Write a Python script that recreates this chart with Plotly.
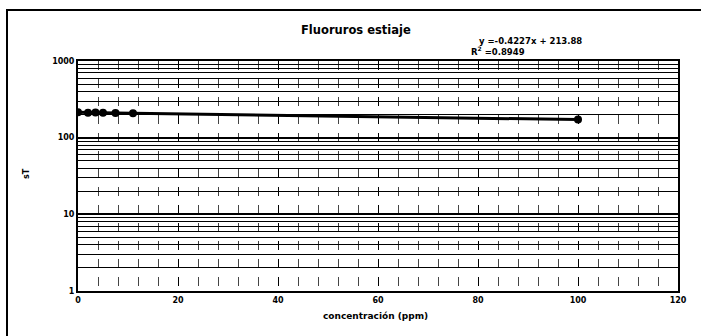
import plotly.graph_objects as go

# Data
conc_ppm = [0, 2, 3.5, 5, 7.5, 11, 100]
st_values = [214, 212, 213, 211, 210, 208, 172]
x_ticks = [0, 20, 40, 60, 80, 100, 120]
y_ticks = [1, 10, 100, 1000]
y_tick_text = ["1", "10", "100", "1000"]

title_text = "Fluoruros estiaje"
equation_text = "y =-0.4227x + 213.88"
r2_text = "R<sup>2</sup> =0.8949"
x_title = "concentración (ppm)"
y_title = "sT"

fig = go.Figure()
fig.add_trace(go.Scatter(
    x=conc_ppm, y=st_values, mode="lines+markers",
    line=dict(color="black", width=3),
    marker=dict(color="black", size=8, symbol="circle"),
    showlegend=False,
))

W, H = 701, 336
L, R, T, B = 78, 23, 61, 45

def px_x(px):
    return (px - L) / (W - L - R)

def px_y(py):
    return (H - B - py) / (H - T - B)

font_b = "DejaVu Sans"

fig.update_layout(
    width=W, height=H,
    margin=dict(l=L, r=R, t=T, b=B),
    paper_bgcolor="white", plot_bgcolor="white",
    font=dict(family=font_b, color="black", size=8),
    xaxis=dict(
        range=[0, 120], tickvals=x_ticks, ticks="", showline=True,
        linecolor="black", linewidth=2, mirror=True,
        showgrid=True, gridcolor="black", gridwidth=1, griddash="dash",
        minor=dict(dtick=4, showgrid=True, gridcolor="#444", gridwidth=1, griddash="dash"),
        tickfont=dict(family=font_b, size=8, color="black", weight="bold"),
        zeroline=False,
    ),
    yaxis=dict(
        type="log", range=[0, 3], tickvals=y_ticks, ticktext=y_tick_text,
        ticks="", showline=True, linecolor="black", linewidth=2, mirror=True,
        showgrid=True, gridcolor="black", gridwidth=1.5,
        minor=dict(dtick="D1", showgrid=True, gridcolor="black", gridwidth=1),
        tickfont=dict(family=font_b, size=8, color="black", weight="bold"),
        zeroline=False,
    ),
)

annotations = [
    dict(text="<b>" + title_text + "</b>", x=px_x(356), y=px_y(30),
         font=dict(family=font_b, size=11.5)),
    dict(text="<b>" + equation_text + "</b>", x=px_x(530), y=px_y(41),
         font=dict(family=font_b, size=8.5)),
    dict(text="<b>" + r2_text + "</b>", x=px_x(498), y=px_y(51),
         font=dict(family=font_b, size=8.5)),
    dict(text="<b>" + x_title + "</b>", x=px_x(375), y=px_y(316),
         font=dict(family=font_b, size=9)),
    dict(text="<b>" + y_title + "</b>", x=px_x(26), y=px_y(174), textangle=-90,
         font=dict(family=font_b, size=8)),
]
for a in annotations:
    a.update(xref="paper", yref="paper", showarrow=False, xanchor="center", yanchor="middle")
    fig.add_annotation(**a)

# outer chart frame
fig.add_shape(type="rect", xref="paper", yref="paper",
              x0=px_x(7), x1=px_x(706), y0=px_y(342), y1=px_y(10),
              line=dict(color="black", width=2))

fig.write_html("out.html", config={"displayModeBar": False},
               post_script="document.body.style.margin='0';document.body.style.overflow='hidden';")
